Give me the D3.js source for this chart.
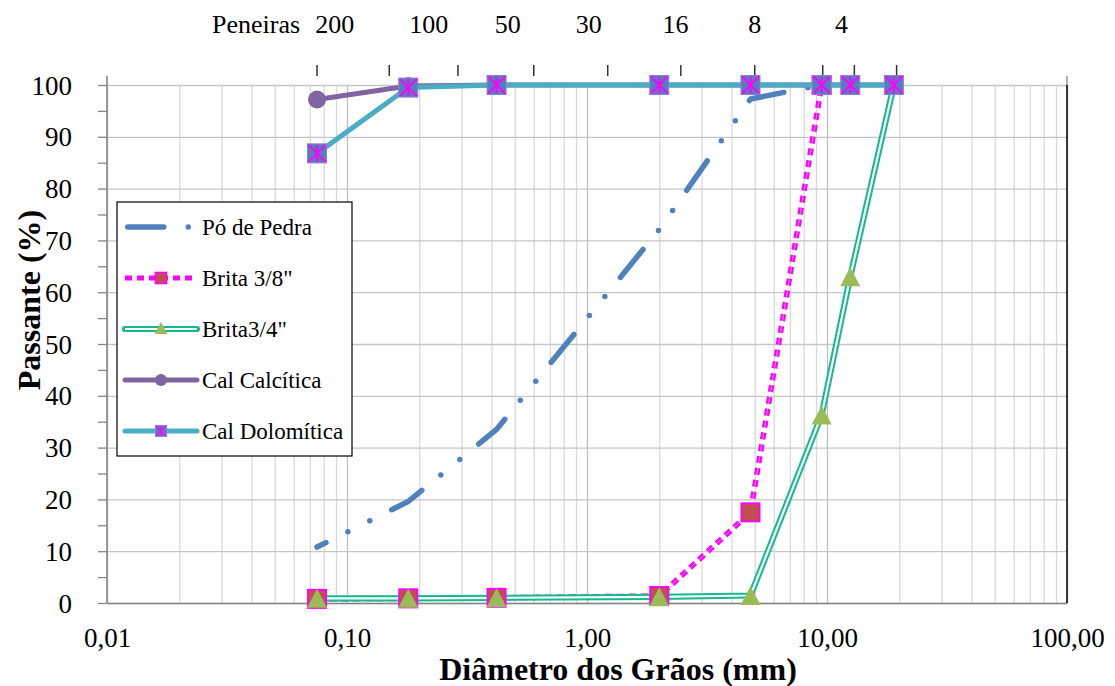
<!DOCTYPE html>
<html>
<head>
<meta charset="utf-8">
<script src="https://cdn.jsdelivr.net/npm/d3@7"></script>
</head>
<body style="margin:0">
<svg id="chart" width="1115" height="686"></svg>
<script>
// Sieve openings (mm) of the grading tests
const aberturas = [0.075, 0.18, 0.42, 2.0, 4.8, 9.5, 12.5, 19];

// Percent passing for each material
const poDePedra     = [10.8, 19.6, 33.5, 72.1, 97.3, 100];
const brita38       = [0.8, 0.9, 1.0, 1.35, 17.5, 100];
const brita34       = [0.9, 0.9, 1.0, 1.2, 1.45, 36.3, 63, 100];
const calCalcitica  = [97.2, 99.8, 100, 100, 100, 100, 100, 100];
const calDolomitica = [86.8, 99.5, 100, 100, 100, 100, 100, 100];

const seriesNames = ["Pó de Pedra", "Brita 3/8\"", "Brita3/4\"", "Cal Calcítica", "Cal Dolomítica"];

// Sieve marks along the top edge (mm) and the sieve numbers written above
const peneiraTicks   = [0.075, 0.15, 0.29, 0.6, 1.22, 2.46, 5.0, 9.6, 13.0, 19.5];
const peneiraLabels  = ["200", "100", "50", "30", "16", "8", "4"];
const peneiraLabelMm = [0.089, 0.219, 0.467, 1.016, 2.34, 5.0, 11.5];

// Axis ticks
const xTicks = [0.01, 0.1, 1, 10, 100];
const xTickLabels = ["0,01", "0,10", "1,00", "10,00", "100,00"];
const yTicks = [0, 10, 20, 30, 40, 50, 60, 70, 80, 90, 100];
const yMinorTicks = [5, 15, 25, 35, 45, 55, 65, 75, 85, 95];

const FONT = "'Liberation Serif'";

// ---- layout ----
const plot = { left: 107, right: 1067, top: 85, bottom: 603 };
const svg = d3.select("#chart");

const x = d3.scaleLog().domain([0.01, 100]).range([plot.left, plot.right]);
const y = d3.scaleLinear().domain([0, 100]).range([plot.bottom, plot.top]);

const toPoints = (vals) => vals.map((v, i) => [aberturas[i], v]);
const line = d3.line().x(d => x(d[0])).y(d => y(d[1]));

// ---- gridlines ----
const minorX = [];
[0.01, 0.1, 1, 10].forEach(d => { for (let k = 2; k <= 9; k++) minorX.push(d * k); });

const grid = svg.append("g");
grid.append("g")
  .attr("transform", `translate(0,${plot.bottom})`)
  .call(d3.axisBottom(x).tickValues(minorX).tickSize(-(plot.bottom - plot.top)).tickFormat(""))
  .call(g => g.select(".domain").remove())
  .call(g => g.selectAll("line").attr("stroke", "#d9d9d9").attr("stroke-width", 1.3));
grid.append("g")
  .attr("transform", `translate(0,${plot.bottom})`)
  .call(d3.axisBottom(x).tickValues(xTicks).tickSize(-(plot.bottom - plot.top)).tickFormat(""))
  .call(g => g.select(".domain").remove())
  .call(g => g.selectAll("line").attr("stroke", "#bfbfbf").attr("stroke-width", 1.3));
grid.append("g")
  .attr("transform", `translate(${plot.left},0)`)
  .call(d3.axisLeft(y).tickValues(yTicks).tickSize(-(plot.right - plot.left)).tickFormat(""))
  .call(g => g.select(".domain").remove())
  .call(g => g.selectAll("line").attr("stroke", "#c6c6c6").attr("stroke-width", 1.3));

// ---- axes ----
const axisColor = "#868686";
const yAxis = svg.append("g")
  .attr("transform", `translate(${plot.left},0)`)
  .call(d3.axisLeft(y).tickValues(yTicks).tickSize(9).tickPadding(26).tickFormat(d3.format("d")));
yAxis.select(".domain").remove();
yAxis.selectAll("line").attr("stroke", axisColor).attr("stroke-width", 1.3);
yAxis.selectAll("text")
  .attr("font-size", 27).attr("fill", "#000").attr("dy", "0.34em");

svg.append("g")
  .attr("transform", `translate(${plot.left},0)`)
  .call(d3.axisLeft(y).tickValues(yMinorTicks).tickSize(9).tickFormat(""))
  .call(g => g.select(".domain").remove())
  .call(g => g.selectAll("line").attr("stroke", axisColor).attr("stroke-width", 1.3));

svg.append("line")
  .attr("x1", plot.left).attr("x2", plot.left)
  .attr("y1", plot.top - 9).attr("y2", plot.bottom)
  .attr("stroke", axisColor).attr("stroke-width", 1.6);

const xAxis = svg.append("g")
  .attr("transform", `translate(0,${plot.bottom})`)
  .call(d3.axisBottom(x).tickValues(xTicks).tickSize(0).tickPadding(25)
    .tickFormat((d, i) => xTickLabels[i]));
xAxis.select(".domain").attr("stroke", axisColor).attr("stroke-width", 1.6);
xAxis.selectAll("text")
  .attr("font-size", 27).attr("fill", "#000");

// right border
svg.append("line")
  .attr("x1", plot.right).attr("x2", plot.right)
  .attr("y1", plot.top - 9).attr("y2", plot.top)
  .attr("stroke", axisColor).attr("stroke-width", 1.3);
svg.append("line")
  .attr("x1", plot.right).attr("x2", plot.right)
  .attr("y1", plot.top).attr("y2", plot.bottom)
  .attr("stroke", "#000").attr("stroke-width", 1.5);

// ---- sieve marks on top ----
svg.append("g").selectAll("line").data(peneiraTicks).join("line")
  .attr("x1", d => x(d)).attr("x2", d => x(d))
  .attr("y1", 65).attr("y2", 76)
  .attr("stroke", "#333").attr("stroke-width", 1.5);

svg.append("text")
  .attr("x", 212).attr("y", 33)
  .attr("font-size", 26).text("Peneiras");
svg.append("g").selectAll("text").data(peneiraLabels).join("text")
  .attr("x", (d, i) => x(peneiraLabelMm[i])).attr("y", 33)
  .attr("text-anchor", "middle").attr("font-size", 26)
  .text(d => d);

// ---- axis titles ----
svg.append("text")
  .attr("x", 618).attr("y", 680)
  .attr("text-anchor", "middle").attr("font-weight", "bold").attr("font-size", 32)
  .text("Diâmetro dos Grãos (mm)");
svg.append("text")
  .attr("transform", "translate(40,300) rotate(-90)")
  .attr("text-anchor", "middle").attr("font-weight", "bold").attr("font-size", 32)
  .text("Passante (%)");

// ---- series ----
const colors = {
  po: "#4f81bd",
  b38: "#ff00ff", b38Fill: "#c0504d",
  b34: "#14b98e", b34Fill: "#9bbb59",
  calc: "#8064a2",
  dolo: "#4bacc6", doloFill: "#4f81bd"
};
const poDash = "36,24.5,0,24.5,0,24.5";
const b38Dash = "7,5";

const series = svg.append("g");

// Pó de Pedra (long dash - dot - dot)
series.append("path")
  .attr("d", line(toPoints(poDePedra)))
  .attr("fill", "none").attr("stroke", colors.po).attr("stroke-width", 5.5)
  .attr("stroke-dasharray", poDash).attr("stroke-dashoffset", 26)
  .attr("stroke-linecap", "round").attr("stroke-linejoin", "round");

// Brita 3/8" (double dashed)
series.append("path")
  .attr("d", line(toPoints(brita38)))
  .attr("fill", "none").attr("stroke", colors.b38).attr("stroke-width", 5.5)
  .attr("stroke-dasharray", b38Dash);
series.append("path")
  .attr("d", line(toPoints(brita38)))
  .attr("fill", "none").attr("stroke", "#fff").attr("stroke-width", 0.9).attr("opacity", 0.6)
  .attr("stroke-dasharray", b38Dash);

// Brita 3/4" (double solid)
series.append("path")
  .attr("d", line(toPoints(brita34)))
  .attr("fill", "none").attr("stroke", colors.b34).attr("stroke-width", 6.2)
  .attr("stroke-linejoin", "round");
series.append("path")
  .attr("d", line(toPoints(brita34)))
  .attr("fill", "none").attr("stroke", "#fff").attr("stroke-width", 2.2)
  .attr("stroke-linejoin", "round");

// Brita 3/8" markers
function squareMarker(g, pts, size, fill, stroke, sw) {
  g.selectAll(null).data(pts).join("rect")
    .attr("x", d => x(d[0]) - size / 2).attr("y", d => y(d[1]) - size / 2)
    .attr("width", size).attr("height", size)
    .attr("fill", fill).attr("stroke", stroke).attr("stroke-width", sw);
}
const b38Marks = series.append("g");
squareMarker(b38Marks, toPoints(brita38), 18, colors.b38Fill, colors.b38, 2);

// Brita 3/4" markers
const tri = (cx, cy, w, h) => `M${cx},${cy - h / 2}L${cx + w / 2},${cy + h / 2}L${cx - w / 2},${cy + h / 2}Z`;
series.append("g").selectAll("path").data(toPoints(brita34)).join("path")
  .attr("d", d => tri(x(d[0]), y(d[1]), 20, 19))
  .attr("fill", colors.b34Fill);

// Cal Calcítica
series.append("path")
  .attr("d", line(toPoints(calCalcitica)))
  .attr("fill", "none").attr("stroke", colors.calc).attr("stroke-width", 5)
  .attr("stroke-linejoin", "round");
series.append("g").selectAll("circle").data(toPoints(calCalcitica)).join("circle")
  .attr("cx", d => x(d[0])).attr("cy", d => y(d[1])).attr("r", 9)
  .attr("fill", colors.calc);

// Cal Dolomítica
series.append("path")
  .attr("d", line(toPoints(calDolomitica)))
  .attr("fill", "none").attr("stroke", colors.dolo).attr("stroke-width", 5)
  .attr("stroke-linejoin", "round");

function starSquare(g, cx, cy, s) {
  const h = s / 2;
  g.append("rect").attr("x", cx - h).attr("y", cy - h).attr("width", s).attr("height", s)
    .attr("fill", colors.doloFill).attr("stroke", "#9b78d8").attr("stroke-width", 1);
  const sw = s > 14 ? 2 : 1.6;
  const p = h - 1;
  g.append("path")
    .attr("d", `M${cx - p},${cy - p}L${cx + p},${cy + p}M${cx + p},${cy - p}L${cx - p},${cy + p}M${cx},${cy - p}L${cx},${cy + p}`)
    .attr("stroke", "#ff00ff").attr("stroke-width", sw).attr("fill", "none");
}
const doloMarks = series.append("g");
toPoints(calDolomitica).forEach(d => starSquare(doloMarks, x(d[0]), y(d[1]), 19));

// ---- legend ----
const legend = svg.append("g");
legend.append("rect")
  .attr("x", 117).attr("y", 202).attr("width", 235).attr("height", 254)
  .attr("fill", "#fff").attr("stroke", "#000").attr("stroke-width", 1.2);

const rowY = i => 227 + i * 51;
const lx1 = 125, lx2 = 197, lmid = 161, ltext = 202;

legend.append("line").attr("x1", lx1 + 2.75).attr("x2", lx2 - 2.75)
  .attr("y1", rowY(0)).attr("y2", rowY(0))
  .attr("stroke", colors.po).attr("stroke-width", 5.5)
  .attr("stroke-dasharray", poDash).attr("stroke-linecap", "round");

legend.append("line").attr("x1", lx1).attr("x2", lx2)
  .attr("y1", rowY(1)).attr("y2", rowY(1))
  .attr("stroke", colors.b38).attr("stroke-width", 5).attr("stroke-dasharray", b38Dash);
legend.append("rect").attr("x", lmid - 5.5).attr("y", rowY(1) - 5.5).attr("width", 11).attr("height", 11)
  .attr("fill", colors.b38Fill).attr("stroke", colors.b38).attr("stroke-width", 1.6);

legend.append("line").attr("x1", lx1).attr("x2", lx2)
  .attr("y1", rowY(2)).attr("y2", rowY(2))
  .attr("stroke", colors.b34).attr("stroke-width", 6.2).attr("stroke-linecap", "round");
legend.append("line").attr("x1", lx1).attr("x2", lx2)
  .attr("y1", rowY(2)).attr("y2", rowY(2))
  .attr("stroke", "#fff").attr("stroke-width", 2.2);
legend.append("path").attr("d", tri(lmid, rowY(2) - 1, 13, 12)).attr("fill", colors.b34Fill);

legend.append("line").attr("x1", lx1).attr("x2", lx2)
  .attr("y1", rowY(3)).attr("y2", rowY(3))
  .attr("stroke", colors.calc).attr("stroke-width", 5).attr("stroke-linecap", "round");
legend.append("circle").attr("cx", lmid).attr("cy", rowY(3)).attr("r", 6).attr("fill", colors.calc);

legend.append("line").attr("x1", lx1).attr("x2", lx2)
  .attr("y1", rowY(4)).attr("y2", rowY(4))
  .attr("stroke", colors.dolo).attr("stroke-width", 5).attr("stroke-linecap", "round");
starSquare(legend, lmid, rowY(4), 11);

legend.selectAll("text.lbl").data(seriesNames).join("text")
  .attr("class", "lbl")
  .attr("x", ltext).attr("y", (d, i) => rowY(i) + 8)
  .attr("font-size", 23).text(d => d);

// every label in the chart uses the serif face
svg.selectAll("text").attr("font-family", FONT);
</script>
</body>
</html>
